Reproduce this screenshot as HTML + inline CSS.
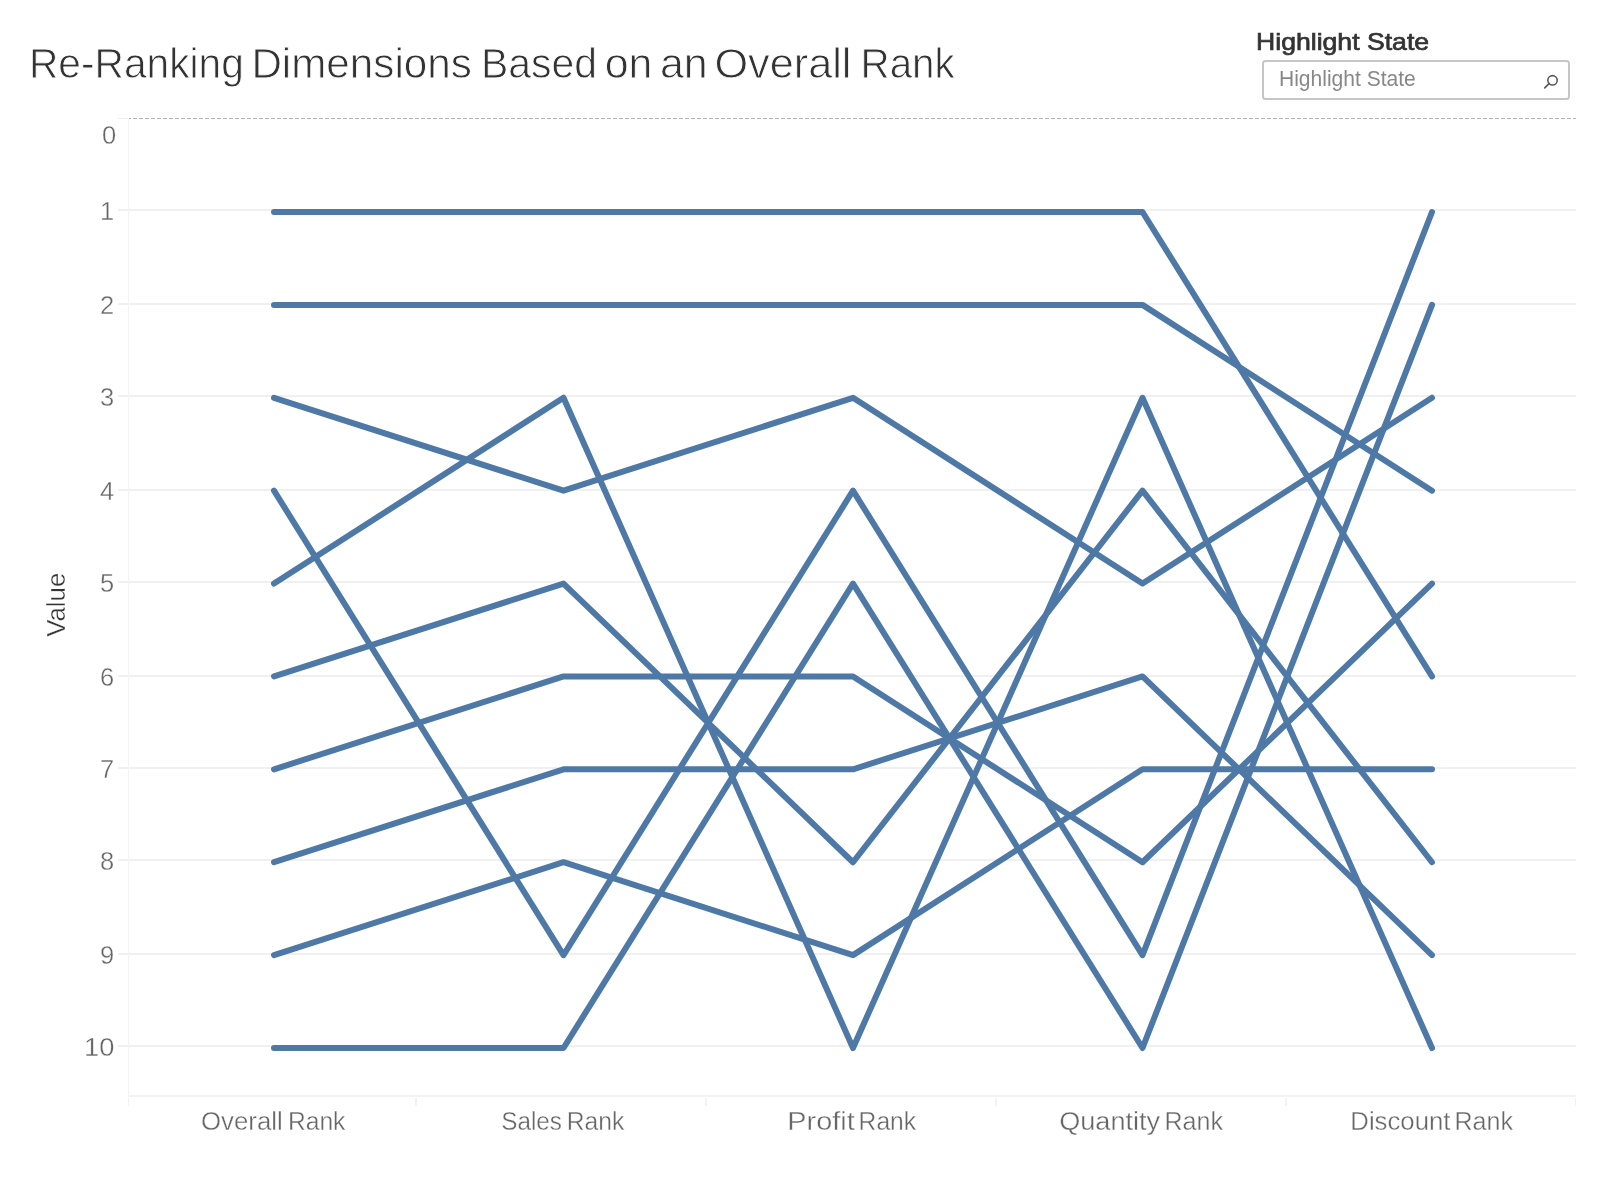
<!DOCTYPE html>
<html><head><meta charset="utf-8"><style>
html,body{margin:0;padding:0;background:#fff;width:1600px;height:1200px;overflow:hidden}
svg{display:block;will-change:transform}
text{font-family:"Liberation Sans",sans-serif}
.tick{fill:#666;stroke:#fff;stroke-width:0.35px}
.xl{fill:#666;stroke:#fff;stroke-width:0.35px}
.vt{fill:#333;stroke:#fff;stroke-width:0.35px}
.title{fill:#333;stroke:#fff;stroke-width:0.8px}
.hl{fill:#333;stroke:#333;stroke-width:0.7px}
.ph{fill:#888}
</style></head><body>
<svg width="1600" height="1200" viewBox="0 0 1600 1200">
<rect x="118" y="209" width="1458" height="2" fill="#f0f0f0"/>
<rect x="118" y="303" width="1458" height="2" fill="#f0f0f0"/>
<rect x="118" y="395" width="1458" height="2" fill="#f0f0f0"/>
<rect x="118" y="489" width="1458" height="2" fill="#f0f0f0"/>
<rect x="118" y="581" width="1458" height="2" fill="#f0f0f0"/>
<rect x="118" y="675" width="1458" height="2" fill="#f0f0f0"/>
<rect x="118" y="767" width="1458" height="2" fill="#f0f0f0"/>
<rect x="118" y="859" width="1458" height="2" fill="#f0f0f0"/>
<rect x="118" y="953" width="1458" height="2" fill="#f0f0f0"/>
<rect x="118" y="1045" width="1458" height="2" fill="#f0f0f0"/>
<rect x="128" y="118" width="1" height="978" fill="#f3f3f3"/>
<rect x="128" y="1095" width="1448" height="2" fill="#f3f3f3"/>
<rect x="128" y="1098" width="1" height="8" fill="#f2f2f2"/>
<rect x="415" y="1098" width="2" height="8" fill="#f2f2f2"/>
<rect x="705" y="1098" width="2" height="8" fill="#f2f2f2"/>
<rect x="995" y="1098" width="2" height="8" fill="#f2f2f2"/>
<rect x="1285" y="1098" width="2" height="8" fill="#f2f2f2"/>
<rect x="1575" y="1098" width="1" height="8" fill="#f2f2f2"/>
<line x1="129" y1="118.5" x2="1576" y2="118.5" stroke="#b4b4b4" stroke-width="1" stroke-dasharray="4 2" stroke-dashoffset="2"/>
<rect x="118" y="118" width="10" height="1" fill="#f0f0f0"/>
<polyline points="274.0,212.00 563.5,212.00 853.0,212.00 1142.5,212.00 1432.0,676.45" fill="none" stroke="#4e79a7" stroke-width="6" stroke-linejoin="round" stroke-linecap="round"/>
<polyline points="274.0,304.89 563.5,304.89 853.0,304.89 1142.5,304.89 1432.0,490.67" fill="none" stroke="#4e79a7" stroke-width="6" stroke-linejoin="round" stroke-linecap="round"/>
<polyline points="274.0,397.78 563.5,490.67 853.0,397.78 1142.5,583.56 1432.0,397.78" fill="none" stroke="#4e79a7" stroke-width="6" stroke-linejoin="round" stroke-linecap="round"/>
<polyline points="274.0,490.67 563.5,955.12 853.0,490.67 1142.5,955.12 1432.0,212.00" fill="none" stroke="#4e79a7" stroke-width="6" stroke-linejoin="round" stroke-linecap="round"/>
<polyline points="274.0,583.56 563.5,397.78 853.0,1048.01 1142.5,397.78 1432.0,1048.01" fill="none" stroke="#4e79a7" stroke-width="6" stroke-linejoin="round" stroke-linecap="round"/>
<polyline points="274.0,676.45 563.5,583.56 853.0,862.23 1142.5,490.67 1432.0,862.23" fill="none" stroke="#4e79a7" stroke-width="6" stroke-linejoin="round" stroke-linecap="round"/>
<polyline points="274.0,769.34 563.5,676.45 853.0,676.45 1142.5,862.23 1432.0,583.56" fill="none" stroke="#4e79a7" stroke-width="6" stroke-linejoin="round" stroke-linecap="round"/>
<polyline points="274.0,862.23 563.5,769.34 853.0,769.34 1142.5,676.45 1432.0,955.12" fill="none" stroke="#4e79a7" stroke-width="6" stroke-linejoin="round" stroke-linecap="round"/>
<polyline points="274.0,955.12 563.5,862.23 853.0,955.12 1142.5,769.34 1432.0,769.34" fill="none" stroke="#4e79a7" stroke-width="6" stroke-linejoin="round" stroke-linecap="round"/>
<polyline points="274.0,1048.01 563.5,1048.01 853.0,583.56 1142.5,1048.01 1432.0,304.89" fill="none" stroke="#4e79a7" stroke-width="6" stroke-linejoin="round" stroke-linecap="round"/>
<text x="1256.00" y="50.00" class="hl" style="font-size:24px" textLength="173.09" lengthAdjust="spacingAndGlyphs">Highlight State</text>
<text x="102.00" y="144.00" class="tick" style="font-size:25.5px">0</text>
<text x="100.00" y="220.00" class="tick" style="font-size:25.5px">1</text>
<text x="100.00" y="314.00" class="tick" style="font-size:25.5px">2</text>
<text x="100.00" y="406.00" class="tick" style="font-size:25.5px">3</text>
<text x="100.00" y="500.00" class="tick" style="font-size:25.5px">4</text>
<text x="100.00" y="592.00" class="tick" style="font-size:25.5px">5</text>
<text x="100.00" y="686.00" class="tick" style="font-size:25.5px">6</text>
<text x="100.00" y="778.00" class="tick" style="font-size:25.5px">7</text>
<text x="100.00" y="870.00" class="tick" style="font-size:25.5px">8</text>
<text x="100.00" y="964.00" class="tick" style="font-size:25.5px">9</text>
<text x="84.00" y="1056.00" class="tick" style="font-size:25.5px" textLength="30.40" lengthAdjust="spacingAndGlyphs">10</text>
<text x="29.00" y="78.00" class="title" style="font-size:42px" textLength="214.76" lengthAdjust="spacingAndGlyphs">Re-Ranking</text>
<text x="251.40" y="78.00" class="title" style="font-size:42px" textLength="220.40" lengthAdjust="spacingAndGlyphs">Dimensions</text>
<text x="480.90" y="78.00" class="title" style="font-size:42px" textLength="116.08" lengthAdjust="spacingAndGlyphs">Based</text>
<text x="604.70" y="78.00" class="title" style="font-size:42px" textLength="47.71" lengthAdjust="spacingAndGlyphs">on</text>
<text x="660.00" y="78.00" class="title" style="font-size:42px" textLength="47.71" lengthAdjust="spacingAndGlyphs">an</text>
<text x="714.40" y="78.00" class="title" style="font-size:42px" textLength="137.03" lengthAdjust="spacingAndGlyphs">Overall</text>
<text x="860.60" y="78.00" class="title" style="font-size:42px" textLength="94.04" lengthAdjust="spacingAndGlyphs">Rank</text>
<text x="201.00" y="1130.00" class="xl" style="font-size:25.5px" textLength="81.77" lengthAdjust="spacingAndGlyphs">Overall</text>
<text x="287.90" y="1130.00" class="xl" style="font-size:25.5px" textLength="57.53" lengthAdjust="spacingAndGlyphs">Rank</text>
<text x="501.20" y="1130.00" class="xl" style="font-size:25.5px" textLength="60.79" lengthAdjust="spacingAndGlyphs">Sales</text>
<text x="566.70" y="1130.00" class="xl" style="font-size:25.5px" textLength="57.53" lengthAdjust="spacingAndGlyphs">Rank</text>
<text x="787.30" y="1130.00" class="xl" style="font-size:25.5px" textLength="67.51" lengthAdjust="spacingAndGlyphs">Profit</text>
<text x="858.60" y="1130.00" class="xl" style="font-size:25.5px" textLength="57.53" lengthAdjust="spacingAndGlyphs">Rank</text>
<text x="1059.20" y="1130.00" class="xl" style="font-size:25.5px" textLength="100.96" lengthAdjust="spacingAndGlyphs">Quantity</text>
<text x="1164.50" y="1130.00" class="xl" style="font-size:25.5px" textLength="58.53" lengthAdjust="spacingAndGlyphs">Rank</text>
<text x="1350.30" y="1130.00" class="xl" style="font-size:25.5px" textLength="100.21" lengthAdjust="spacingAndGlyphs">Discount</text>
<text x="1454.50" y="1130.00" class="xl" style="font-size:25.5px" textLength="58.53" lengthAdjust="spacingAndGlyphs">Rank</text>
<text transform="translate(65,604.8) rotate(-90)" text-anchor="middle" class="vt" style="font-size:25px" textLength="64.08" lengthAdjust="spacingAndGlyphs">Value</text>
<rect x="1263" y="61" width="306" height="38" rx="2.5" fill="#fff" stroke="#c6c6c6" stroke-width="2"/>
<text x="1279.00" y="86.00" class="ph" style="font-size:21.5px" textLength="136.83" lengthAdjust="spacingAndGlyphs">Highlight State</text>
<circle cx="1552.5" cy="80.3" r="4.7" fill="none" stroke="#5a5a5a" stroke-width="1.6"/>
<line x1="1549.2" y1="83.4" x2="1544.8" y2="87.8" stroke="#5a5a5a" stroke-width="1.7" stroke-linecap="round"/>
</svg>
</body></html>
